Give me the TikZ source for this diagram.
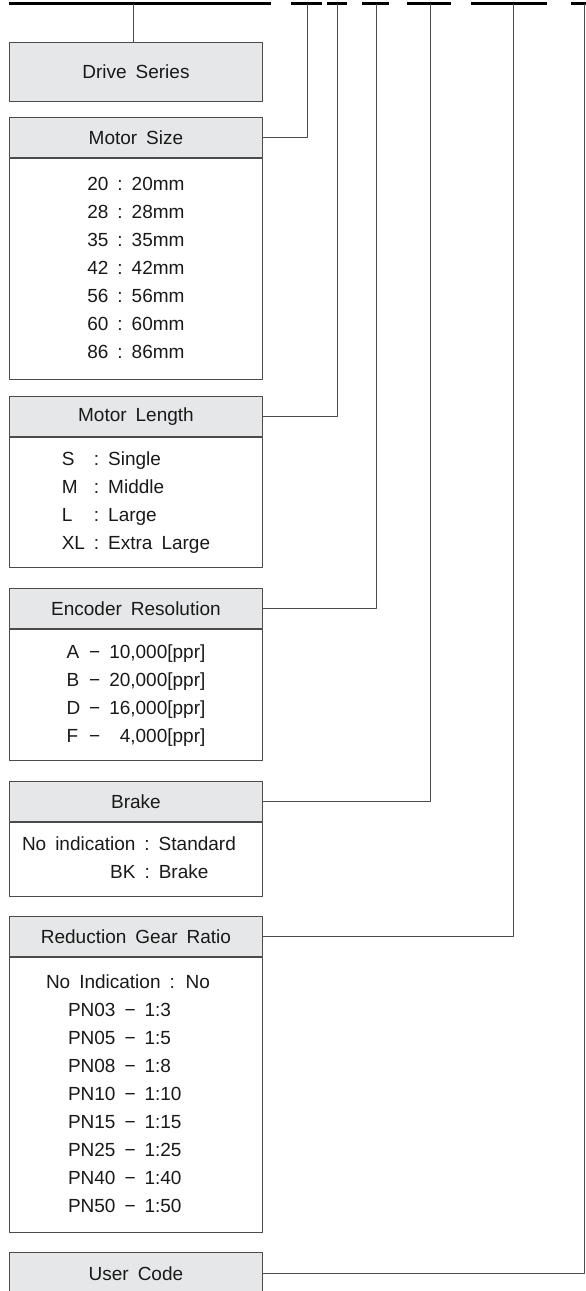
\documentclass[tikz,border=0pt]{standalone}
\usepackage{fontspec}
\setmainfont{Liberation Sans}[WordSpace=1.7]
\usetikzlibrary{positioning}
\definecolor{hdrgray}{RGB}{230,231,232}
\definecolor{linegray}{RGB}{75,75,75}
\newcommand{\mns}{\symbol{"2212}}

\begin{document}
\begin{tikzpicture}[line cap=round,line join=round,x=1pt,y=-1pt,
  font=\fontsize{19}{28}\selectfont,text=black!90,
  hdr/.style={draw=linegray,line width=0.9pt,fill=hdrgray,minimum width=253pt,minimum height=40pt,inner sep=0pt,anchor=north west},
  body/.style={draw=linegray,line width=0.9pt,minimum width=253pt,inner sep=0pt,below=0pt of #1},
  bar/.style={line width=2.5pt,line cap=butt},
  tick/.style={line width=0.9pt,draw=linegray}]
\clip(0,0) rectangle (586,1291);
% code bar
\draw [bar] (9,3.5) -- (271,3.5);
\draw [bar] (291,3.5) -- (322,3.5);
\draw [bar] (327,3.5) -- (347,3.5);
\draw [bar] (362,3.5) -- (389,3.5);
\draw [bar] (407,3.5) -- (451,3.5);
\draw [bar] (471,3.5) -- (547,3.5);
\draw [bar] (571,3.5) -- (590,3.5);
\coordinate (t0) at (133,4);
\coordinate (t1) at (307,4);
\coordinate (t2) at (337,4);
\coordinate (t3) at (376,4);
\coordinate (t4) at (430,4);
\coordinate (t5) at (513,4);
\coordinate (t6) at (584,4);
% boxes
\node [hdr,minimum height=59pt] (series) at (9,42) {Drive Series};
\node [hdr] (size) at (9,117) {Motor Size};
\node [body=size,minimum height=221pt] (sizebody) {\begin{tabular}{@{}r@{\ :\ }l@{}}
20&20mm\\28&28mm\\35&35mm\\42&42mm\\56&56mm\\60&60mm\\86&86mm
\end{tabular}};
\node [hdr] (length) at (9,396) {Motor Length};
\node [body=length,minimum height=130pt] (lengthbody) {\begin{tabular}{@{}l@{\ :\ }l@{}}
S&Single\\M&Middle\\L&Large\\XL&Extra Large
\end{tabular}};
\node [hdr] (enc) at (9,588) {Encoder Resolution};
\node [body=enc,minimum height=131pt] (encbody) {\begin{tabular}{@{}l@{\ }c@{\ }r@{}}
A&\mns&10,000[ppr]\\B&\mns&20,000[ppr]\\D&\mns&16,000[ppr]\\F&\mns&4,000[ppr]
\end{tabular}};
\node [hdr] (brake) at (9,781) {Brake};
\node [body=brake,minimum height=74pt] (brakebody) {\begin{tabular}{@{}r@{\ :\ }l@{\hspace{14pt}}}
No indication&Standard\\BK&Brake
\end{tabular}};
\node [hdr] (gear) at (9,916) {Reduction Gear Ratio};
\node [body=gear,minimum height=275pt] (gearbody) {\begin{tabular}{@{\hspace{22pt}}l@{\ }c@{\ }l@{}}
\multicolumn{3}{@{}l@{\hspace{16pt}}}{No Indication : No}\\
PN03&\mns&1:3\\PN05&\mns&1:5\\PN08&\mns&1:8\\PN10&\mns&1:10\\PN15&\mns&1:15\\PN25&\mns&1:25\\PN40&\mns&1:40\\PN50&\mns&1:50
\end{tabular}};
\node [hdr,minimum height=42pt] (user) at (9,1252) {User Code};
% connectors
\draw [tick] (t0) -- (t0 |- series.north);
\draw [tick] (size.east) -| (t1);
\draw [tick] (length.east) -| (t2);
\draw [tick] (enc.east) -| (t3);
\draw [tick] (brake.east) -| (t4);
\draw [tick] (gear.east) -| (t5);
\draw [tick] (user.east) -| (t6);
\end{tikzpicture}
\end{document}
